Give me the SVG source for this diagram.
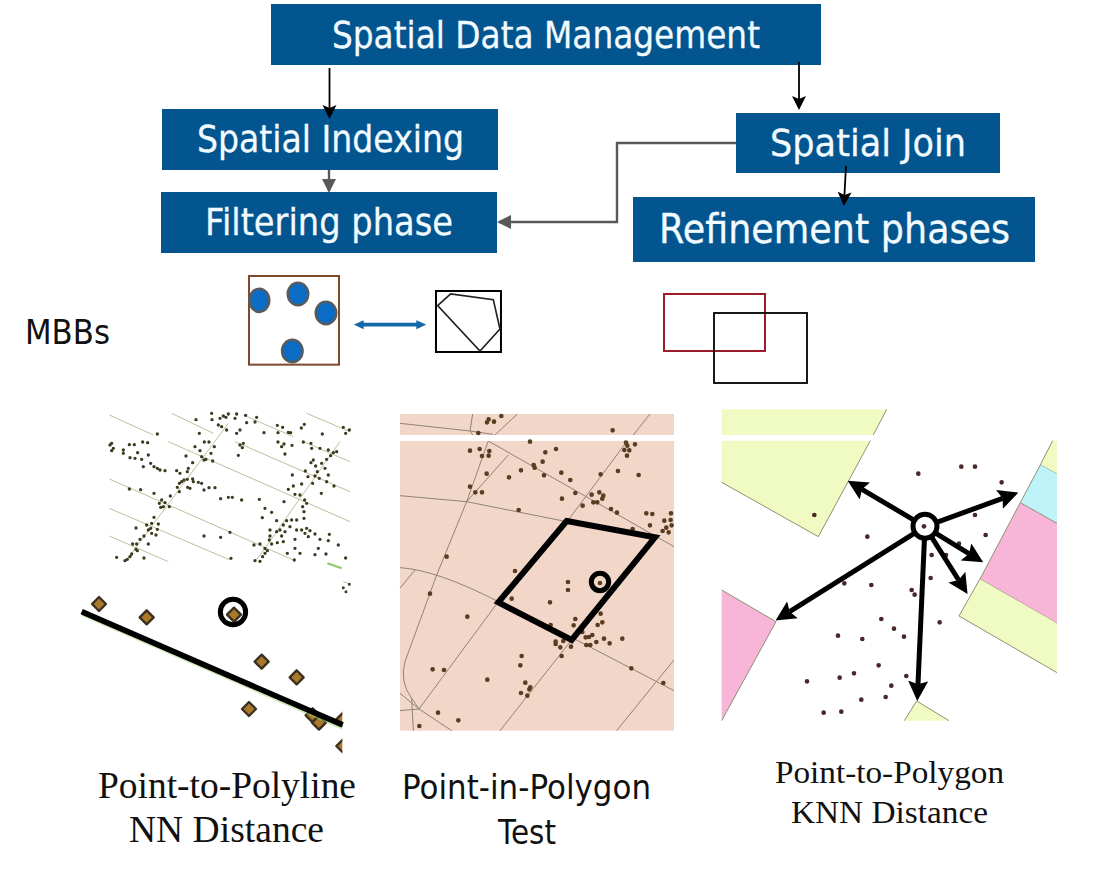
<svg xmlns="http://www.w3.org/2000/svg" width="1101" height="892" viewBox="0 0 1101 892">
<style>
.box{fill:#03558f}
.bt{fill:#f2fbff;font-family:"DejaVu Sans",sans-serif;text-anchor:start;stroke:#f2fbff;stroke-width:.3}
.serif{font-family:"Liberation Serif",serif;fill:#111}
.sans{font-family:"DejaVu Sans",sans-serif;fill:#111}
.blk{fill:none;stroke:#000;stroke-width:1.8}
.gry{fill:none;stroke:#595959;stroke-width:2.400}
.dots{fill:none;stroke-linecap:round}
.road{fill:none;stroke:#8f8379;stroke-width:3}
.st{fill:none;stroke:#bcc09c;stroke-width:3}
.par{stroke:#8f9070;stroke-width:3}
.arr{fill:none;stroke:#000;stroke-width:15;marker-end:url(#big)}
</style>
<defs>
<marker id="hb" markerUnits="userSpaceOnUse" viewBox="0 0 14 16" refX="11" refY="8" markerWidth="14" markerHeight="16" orient="auto"><path d="M0 1L14 8L0 15L3 8z" fill="#000"/></marker>
<marker id="hg" markerUnits="userSpaceOnUse" viewBox="0 0 14 16" refX="12" refY="8" markerWidth="14" markerHeight="16" orient="auto"><path d="M0 1L14 8L0 15z" fill="#595959"/></marker>
<marker id="big" markerUnits="userSpaceOnUse" viewBox="0 0 60 60" refX="10" refY="30" markerWidth="60" markerHeight="60" orient="auto"><path d="M0 0L60 30L0 60L10 30z" fill="#000"/></marker>
<marker id="bs" markerUnits="userSpaceOnUse" viewBox="0 0 10 10" refX="1" refY="5" markerWidth="30" markerHeight="30" orient="auto-start-reverse"><path d="M0 0.500L10 5L0 9.500z" fill="#1268a8"/></marker>
<clipPath id="cl"><rect x="0" y="560" width="787" height="520"/></clipPath>
<polygon id="dm" points="0,-21 21,0 0,21 -21,0" fill="#a9792a" stroke="#3b3020" stroke-width="7" stroke-linejoin="round"/>
</defs>
<rect width="1101" height="892" fill="#fff"/>

<g id="node-spatial-data-management"><rect class="box" x="271" y="4" width="550" height="61"/><text class="bt" x="332" y="48" font-size="38" textLength="428" lengthAdjust="spacingAndGlyphs">Spatial Data Management</text></g>
<g id="node-spatial-indexing"><rect class="box" x="162" y="109" width="336" height="61"/><text class="bt" x="197" y="152" font-size="38" textLength="267" lengthAdjust="spacingAndGlyphs">Spatial Indexing</text></g>
<g id="node-filtering-phase"><rect class="box" x="161" y="192" width="336" height="61"/><text class="bt" x="205" y="235" font-size="38" textLength="248" lengthAdjust="spacingAndGlyphs">Filtering phase</text></g>
<g id="node-spatial-join"><rect class="box" x="736" y="113" width="264" height="60"/><text class="bt" x="770" y="156" font-size="38" textLength="196" lengthAdjust="spacingAndGlyphs">Spatial Join</text></g>
<g id="node-refinement-phases"><rect class="box" x="633" y="197" width="402" height="65"/><text class="bt" x="659" y="243" font-size="41" textLength="351" lengthAdjust="spacingAndGlyphs">Refinement phases</text></g>

<g id="connectors">
<path class="blk" d="M329.500 68V116" marker-end="url(#hb)"/>
<path class="blk" d="M799 62V107" marker-end="url(#hb)"/>
<path class="gry" d="M329 170V191" marker-end="url(#hg)"/>
<path class="gry" d="M736 143H617V222H499" marker-end="url(#hg)"/>
<path class="blk" d="M846 166L844 203" marker-end="url(#hb)"/>
</g>

<text class="sans" x="25" y="344" font-size="34" textLength="85" lengthAdjust="spacingAndGlyphs">MBBs</text>

<g id="mbb-left" transform="translate(230 265) scale(.3333)">
<rect x="57" y="33" width="270" height="266" fill="#fff" stroke="#7d4a2e" stroke-width="6"/>
<g fill="#0a6cc4" stroke="#5a5a5a" stroke-width="7"><ellipse cx="88" cy="106" rx="30" ry="35"/><ellipse cx="204" cy="87" rx="31" ry="34"/><ellipse cx="288" cy="144" rx="31" ry="34"/><ellipse cx="187" cy="258" rx="31" ry="34"/></g>
<path d="M398 179H562" stroke="#1268a8" stroke-width="11" fill="none" marker-start="url(#bs)" marker-end="url(#bs)"/>
<rect x="618" y="78" width="195" height="183" fill="#fff" stroke="#000" stroke-width="6"/>
<path d="M623 122L662 87L790 104L810 192L750 258z" fill="none" stroke="#222" stroke-width="5"/>
</g>
<g id="mbb-right"><rect x="664" y="294" width="101" height="57" fill="none" stroke="#9c1c2c" stroke-width="2"/><rect x="714" y="313" width="93" height="70" fill="none" stroke="#000" stroke-width="1.800"/></g>

<g id="panel-polyline" transform="translate(80 400) scale(.3333)">
<path class="st" d="M88 45L220 105M275 40L400 100M490 45L640 110M465 125L810 275M265 125L810 365M88 237L640 480M88 325L450 480M88 408L265 485M680 40L810 95M670 125L810 185M140 480L445 70M530 480L780 125M790 545L810 552"/>
<path class="dots" stroke="#3d3a20" stroke-width="10" d="M348 59h0M396 59h0M395 40h0M430 48h0M438 52h0M420 55h0M445 42h0M470 42h0M497 46h0M465 55h0M500 68h0M525 66h0M530 52h0M415 75h0M425 80h0M440 90h0M480 90h0M470 100h0M358 100h0M552 98h0M592 76h0M608 82h0M594 98h0M625 97h0M632 98h0M664 84h0M673 73h0M790 82h0M797 100h0M808 90h0M727 102h0M232 102h0M594 126h0M612 132h0M636 136h0M605 140h0M615 162h0M487 143h0M480 135h0M490 130h0M475 166h0M693 130h0M670 126h0M695 145h0M720 145h0M745 150h0M760 158h0M770 155h0M752 167h0M740 178h0M725 190h0M700 180h0M693 188h0M707 198h0M712 215h0M705 228h0M718 235h0M735 205h0M745 225h0M740 245h0M762 258h0M676 213h0M684 230h0M698 250h0M665 252h0M640 258h0M625 268h0M645 283h0M660 285h0M724 280h0M674 300h0M680 310h0M668 320h0M637 225h0M612 305h0M538 298h0M555 325h0M575 337h0M547 353h0M672 335h0M672 355h0M650 360h0M635 360h0M620 362h0M590 362h0M610 375h0M630 380h0M600 390h0M615 395h0M570 390h0M590 395h0M570 408h0M605 408h0M650 390h0M665 390h0M680 385h0M690 392h0M675 400h0M685 410h0M705 402h0M720 418h0M748 403h0M745 422h0M775 435h0M645 418h0M610 425h0M592 428h0M568 420h0M575 432h0M555 445h0M562 452h0M555 460h0M548 470h0M522 435h0M540 432h0M622 460h0M645 445h0M660 460h0M705 464h0M715 445h0M738 462h0M797 474h0M643 480h0M525 482h0M540 484h0M453 475h0M450 397h0M422 412h0M372 408h0M485 300h0M457 292h0M445 292h0M422 296h0M405 263h0M387 263h0M372 270h0M365 250h0M355 247h0M340 245h0M338 237h0M322 238h0M323 262h0M330 265h0M312 240h0M305 245h0M298 250h0M292 262h0M298 275h0M290 212h0M300 220h0M322 215h0M325 205h0M338 188h0M318 168h0M345 140h0M360 152h0M373 126h0M387 126h0M403 140h0M393 160h0M398 183h0M365 170h0M372 180h0M378 178h0M222 280h0M182 269h0M148 267h0M271 288h0M245 300h0M238 310h0M250 320h0M268 320h0M255 308h0M242 322h0M222 352h0M215 370h0M200 375h0M212 385h0M205 390h0M215 400h0M235 372h0M232 388h0M228 405h0M168 384h0M192 408h0M180 418h0M170 432h0M158 432h0M168 448h0M172 452h0M205 432h0M155 462h0M150 470h0M142 478h0M110 472h0M192 474h0M135 482h0M255 212h0M240 210h0M232 205h0M222 200h0M212 190h0M205 165h0M190 200h0M185 178h0M165 175h0M150 173h0M173 158h0M148 134h0M163 134h0M130 150h0M130 160h0M95 130h0M90 135h0M100 145h0M95 152h0M188 126h0M203 128h0"/>
<path d="M742 490L785 505" stroke="#8fc86a" stroke-width="6" fill="none"/>
<path class="dots" stroke="#3d3a20" stroke-width="9" d="M808 553h0M790 563h0M798 575h0"/>
<g clip-path="url(#cl)">
<use href="#dm" x="57" y="612"/><use href="#dm" x="200" y="652"/><use href="#dm" x="462" y="644"/><use href="#dm" x="545" y="785"/><use href="#dm" x="650" y="832"/><use href="#dm" x="507" y="927"/><use href="#dm" x="698" y="946"/><use href="#dm" x="717" y="968"/><use href="#dm" x="790" y="958"/><use href="#dm" x="790" y="1038"/>
<path d="M8 642L788 982" stroke="#9fd070" stroke-width="14" fill="none" opacity=".5"/>
</g>
<path d="M5 635L788 975" stroke="#000" stroke-width="17" fill="none"/>
<circle cx="459" cy="636" r="38" fill="none" stroke="#000" stroke-width="15"/>
</g>

<g id="panel-polygon" transform="translate(390 405) scale(.3333)">
<rect x="30" y="27" width="822" height="950" fill="#f2d6c8"/>
<path class="road" d="M30 55L240 78L310 88M248 27L240 78L248 90M382 27L315 90M295 108L852 425M295 108L230 290L140 510L45 770Q28 830 65 880L87 912L30 917M87 912L185 977M30 865L87 912M65 880L70 977M355 150L230 290M30 272L230 290L530 350M780 27L730 90M712 108L535 345M30 488Q140 495 325 590M75 495L30 550M325 590L87 912M545 705L330 977M550 700L852 857M852 765L680 977"/>
<rect x="30" y="90" width="822" height="18" fill="#fff"/>
<path class="dots" stroke="#5a3d20" stroke-width="14" d="M334 33h0M296 43h0M291 52h0M312 50h0M265 84h0M668 76h0M420 110h0M708 113h0M712 122h0M735 118h0M718 136h0M703 135h0M711 152h0M240 137h0M269 132h0M298 138h0M276 153h0M296 152h0M466 142h0M498 132h0M458 170h0M431 180h0M434 188h0M393 196h0M357 217h0M290 206h0M462 211h0M514 203h0M541 225h0M632 208h0M684 198h0M746 210h0M240 245h0M256 262h0M276 262h0M556 264h0M605 269h0M628 262h0M640 272h0M637 281h0M610 292h0M622 292h0M578 302h0M516 281h0M386 315h0M663 312h0M681 323h0M769 325h0M787 327h0M780 361h0M843 325h0M823 347h0M842 345h0M845 361h0M829 368h0M818 378h0M836 382h0M728 372h0M170 455h0M375 498h0M534 531h0M534 555h0M630 534h0M120 566h0M365 581h0M480 592h0M232 635h0M632 626h0M556 642h0M637 652h0M623 660h0M551 661h0M482 660h0M607 690h0M597 696h0M587 697h0M577 681h0M642 701h0M659 715h0M697 701h0M619 711h0M589 720h0M601 720h0M497 710h0M497 717h0M520 708h0M511 727h0M543 725h0M515 753h0M395 753h0M391 781h0M128 793h0M162 795h0M724 790h0M292 824h0M820 834h0M406 833h0M421 847h0M418 853h0M393 864h0M412 872h0M144 923h0M205 946h0M88 963h0"/>
<path d="M530 348L795 397L545 705L325 592z" fill="none" stroke="#000" stroke-width="18" stroke-linejoin="miter"/>
<circle cx="630" cy="531" r="26" fill="none" stroke="#000" stroke-width="15"/>
</g>

<g id="panel-knn" transform="translate(715 400) scale(.3333)">
<g class="par">
<path d="M20 28H515L475 105H20z" fill="#f0fbc4" stroke="none"/>
<path d="M515 28L475 105" fill="none"/>
<path d="M20 122H466L310 410L20 247z" fill="#f0fbc4" stroke="none"/>
<path d="M466 122L310 410L20 247" fill="none"/>
<path d="M20 570L183 665L20 962z" fill="#f7b5d8" stroke="none"/>
<path d="M20 570L183 665L20 962" fill="none"/>
<path d="M1026 122H1013L976 195L1026 222z" fill="#f0fbc4" stroke="none"/>
<path d="M1026 222L976 195L1013 122" fill="none"/>
<path d="M976 195L1026 222V370L916 308z" fill="#bff3fa" stroke="none"/>
<path d="M916 308L976 195" fill="none"/>
<path d="M916 308L1026 370V670L795 537z" fill="#f7b5d8" stroke="none"/>
<path d="M1026 370L916 308L795 537L1026 670" fill="none"/>
<path d="M795 537L1026 670V818L732 648z" fill="#f0fbc4" stroke="none"/>
<path d="M795 537L732 648L1026 818" fill="none"/>
<path d="M605 903L702 962H568z" fill="#f0fbc4" stroke="none"/>
<path d="M702 962L605 903L568 962" fill="none"/>
</g>
<path class="dots" stroke="#4a2828" stroke-width="14" d="M610 221h0M739 200h0M780 200h0M860 247h0M298 345h0M780 345h0M812 405h0M457 410h0M732 431h0M650 465h0M693 465h0M647 534h0M388 550h0M469 555h0M590 570h0M599 584h0M499 657h0M674 667h0M537 686h0M369 707h0M442 717h0M567 710h0M491 796h0M417 820h0M374 833h0M574 828h0M276 844h0M529 857h0M512 891h0M439 899h0M326 938h0M379 935h0"/>
<path class="arr" d="M630 380L441 268"/>
<path class="arr" d="M630 380L863 295"/>
<path class="arr" d="M630 380L762 461"/>
<path class="arr" d="M630 380L731 540"/>
<path class="arr" d="M630 380L224 635"/>
<path class="arr" d="M630 380L609 853"/>
<circle cx="630" cy="379" r="36" fill="#fff" stroke="#000" stroke-width="15"/>
<path class="dots" stroke="#4a2828" stroke-width="14" d="M627 379h0"/>
</g>

<g id="captions">
<text class="serif" x="98" y="798" font-size="37" textLength="258" lengthAdjust="spacingAndGlyphs">Point-to-Polyline</text>
<text class="serif" x="129" y="842" font-size="37" textLength="195" lengthAdjust="spacingAndGlyphs">NN Distance</text>
<text class="sans" x="402" y="799" font-size="33" textLength="249" lengthAdjust="spacingAndGlyphs">Point-in-Polygon</text>
<text class="sans" x="498" y="844" font-size="33" textLength="58" lengthAdjust="spacingAndGlyphs">Test</text>
<text class="serif" x="775" y="783" font-size="32" textLength="229" lengthAdjust="spacingAndGlyphs">Point-to-Polygon</text>
<text class="serif" x="791" y="823" font-size="32" textLength="197" lengthAdjust="spacingAndGlyphs">KNN Distance</text>
</g>
</svg>
